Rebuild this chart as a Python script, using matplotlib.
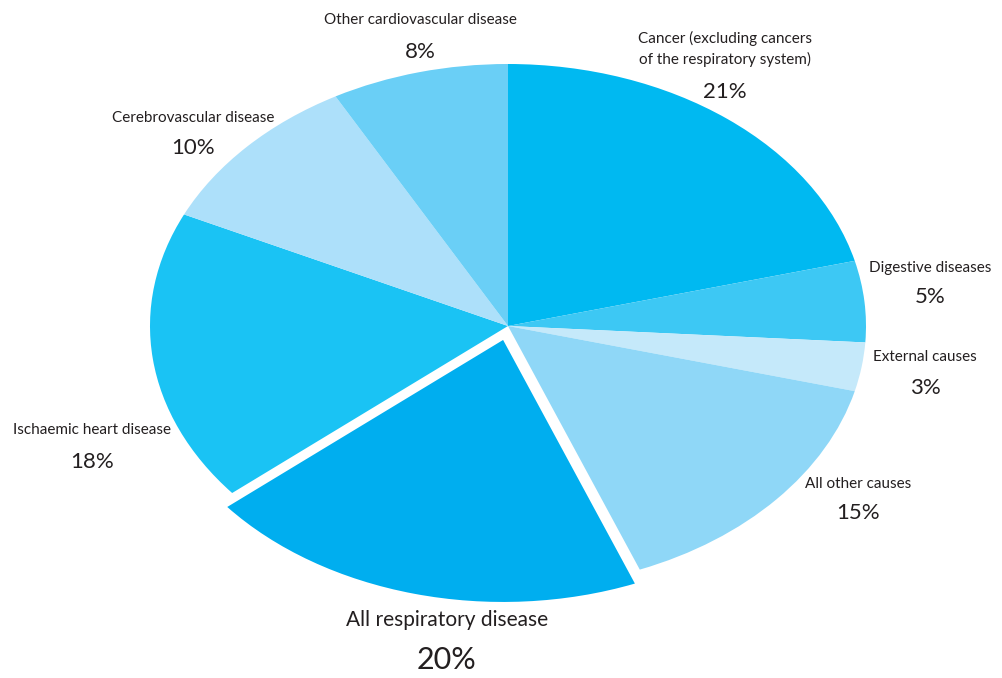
import matplotlib
matplotlib.use("Agg")
import matplotlib.pyplot as plt

plt.rcParams['font.family'] = ['Lato', 'DejaVu Sans']

# causes of death, clockwise from 12 o'clock
causes = ['Cancer (excluding cancers\nof the respiratory system)', 'Digestive diseases',
          'External causes', 'All other causes', 'All respiratory disease',
          'Ischaemic heart disease', 'Cerebrovascular disease',
          'Other cardiovascular disease']
shares = [21, 5, 3, 15, 20, 18, 10, 8]
colours = ['#00B9F1', '#3DC8F4', '#C5E9FA', '#8FD7F7', '#00AEEF',
           '#1AC3F4', '#ADE0FA', '#6ACFF6']
explode = [0, 0, 0, 0, 0.055, 0, 0, 0]

W, H = 1003, 678
CX, CY = 508, 326        # pie centre, pixels
RX, RY = 358, 262        # ellipse radii, pixels

fig = plt.figure(figsize=(W / 100, H / 100), dpi=100)
ax = fig.add_axes([0, 0, 1, 1])
ax.pie(shares, colors=colours, explode=explode, startangle=90,
       counterclock=False, radius=1, wedgeprops=dict(linewidth=0))
ax.set_aspect('auto')
ax.set_xlim(-CX / RX, (W - CX) / RX)
ax.set_ylim(-(H - CY) / RY, CY / RY)
ax.axis('off')

# label layout: (x px, name y px, pct y px, name size, pct size)
label_pos = [(725, 49, 92, 11, 16), (930, 268, 297, 11, 16), (925, 357, 388, 11, 16),
             (858, 484, 513, 11, 16), (447, 620, 660, 15, 22), (92, 430, 462, 11, 16),
             (193, 118, 148, 11, 16), (420, 20, 52, 11, 16)]
txt = '#231F20'
for name, val, (x, yn, yp, sn, sp) in zip(causes, shares, label_pos):
    fig.text(x / W, 1 - yn / H, name, ha='center', va='center', fontsize=sn,
             color=txt, linespacing=1.45)
    fig.text(x / W, 1 - yp / H, '%d%%' % val, ha='center', va='center',
             fontsize=sp, color=txt)

fig.savefig('out.png', dpi=100, facecolor='white')
